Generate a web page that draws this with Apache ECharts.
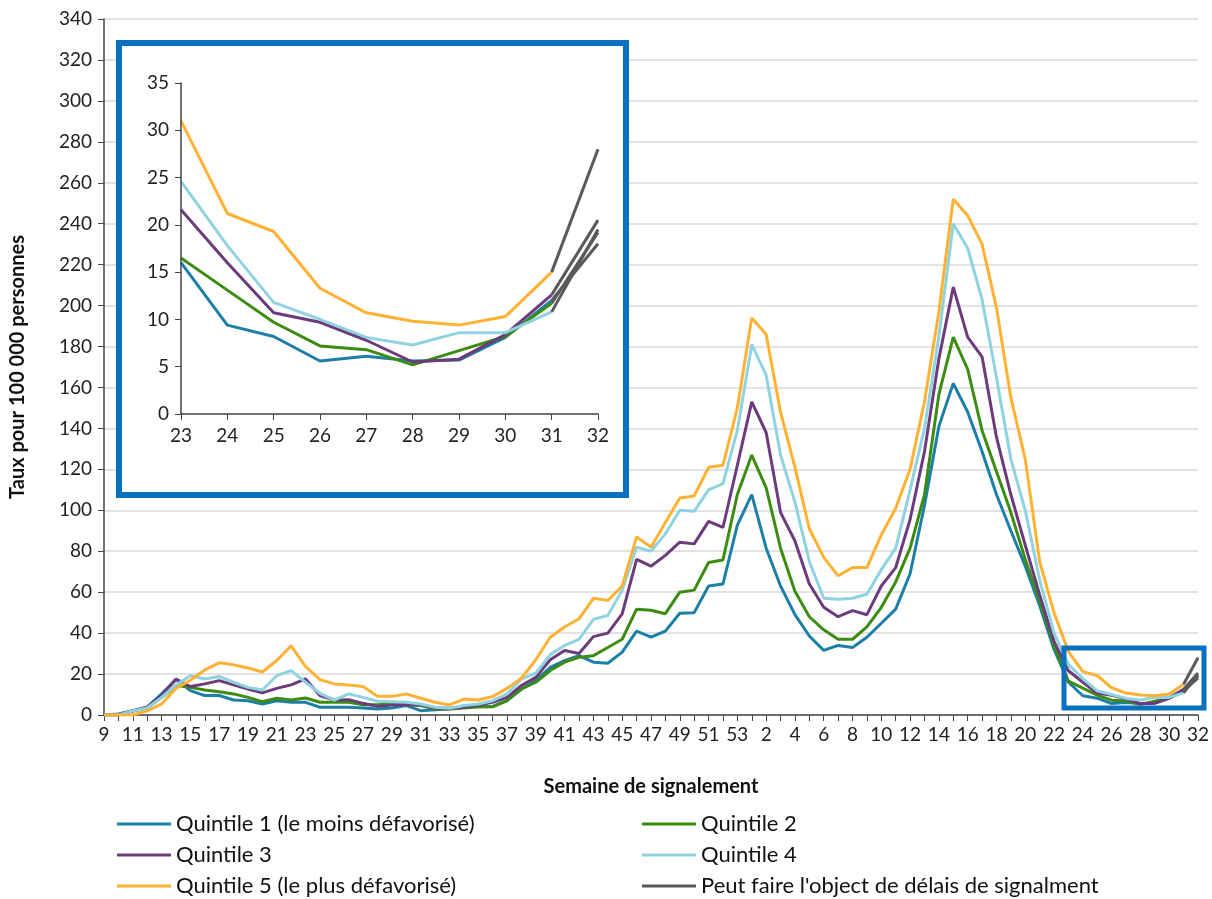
<!DOCTYPE html>
<html><head><meta charset="utf-8">
<script src="https://cdn.jsdelivr.net/npm/echarts@6/dist/echarts.min.js"></script>
<style>html,body{margin:0;padding:0;background:#fff}#c{width:1212px;height:899px}</style>
</head><body><div id="c"></div>
<script>
const weeks2020 = [];for(let w=9;w<=53;w++)weeks2020.push(String(w));
const weeks2021 = [];for(let w=1;w<=32;w++)weeks2021.push(String(w));
const categories = weeks2020.concat(weeks2021);
const q1 = [0,0.5,2.1,3.8,10.3,17.3,11.9,9.5,9.5,7.3,
7,5.4,7,6.2,6.2,3.8,3.8,3.8,3.4,2.9,
3.4,4.6,2.1,2.6,2.9,3.8,4,4.2,7,12.7,
16.8,23.3,26.6,29,25.8,25.3,30.7,41,38,41,
49.7,50,63,64,92.8,107.7,81.5,63,49,38.6,
31.6,34,33,38,44.8,51.7,69,102.4,141,162,
148,128.7,107.7,90,72.7,53.5,32,16,9.4,8.2,
5.6,6.1,5.6,5.7,8.1,12,null];
const q2 = [0,0,2,3.4,8.6,14.4,13.5,12.2,11.4,10.3,
8.6,6.5,8.2,7.3,8.3,6.2,6.2,6.2,5,5,
5.4,5,4.6,2.9,2.9,3.4,4,4,7,12.7,
16,21.7,25.8,28.2,29,33,37,51.7,51.2,49.5,
60,61,74.5,75.7,107.7,127,111,81.5,60.5,48,
41.6,37,37,43,52.6,65,81.5,107.7,156.6,184.6,
168.9,139,119,99,76,56,34,16.5,13.1,9.7,
7.2,6.8,5.2,6.7,8.2,11.7,null];
const q3 = [0,0,2,3.8,9.5,17.6,13.9,15.2,16.8,14.7,
12.7,10.8,13,14.7,17.6,9.5,7.3,7.5,5.7,4.2,
4.9,5,5,3.4,3.3,3.8,4.9,6.2,8.6,14.4,
18.4,27,31.5,30,38.3,40,49.4,76,72.7,78,
84.4,83.6,94.6,91.6,122,153,138,99,85,64,
52.6,48,51,49,63,72,95.5,128.7,174,209,
184.6,175,135.7,107.7,83,58.7,36,21.6,16,10.7,
9.7,7.8,5.5,5.8,8.4,12.6,null];
const q4 = [0,0,2,3.4,8.6,14.7,19.2,17.6,18.8,16,
13.5,12.2,19.2,21.7,16,10.6,7.3,10.3,8.6,6.7,
6.5,6.2,5.4,3.8,3.3,4.6,5.4,7,10.3,17.6,
20.4,29.5,34,37,46.7,48.6,61,82,80,88.5,
100,99.5,110,113,139,181,166,127,104,75,
57,56.5,57,59,71,81.5,110,140,185,240,
228,203,165,125,100,66,40,24.6,17.8,11.8,
10,8.1,7.3,8.6,8.6,10.8,null];
const q5 = [0,0,0,2,5.4,13,17,22,25.5,24.5,
23,21,26.6,33.8,23.7,17.3,15.2,14.7,13.9,9.1,
9.1,10.3,8.2,6.2,4.9,7.8,7.3,9,13,18,
27,38,43,47,57,56,63,87,82,94,
106,107,121,122,150,194,186,148,121,91,
77,68,72,72,88,101,120,153,197,252,
244,230,199,155,125,75,50,31,21.2,19.3,
13.3,10.7,9.8,9.4,10.3,15,null];
// week 32 values (possible reporting delays)
const lastWeek = {q1:18, q2:19.2, q3:20.5, q4:19.5, q5:28};
const yTicks = {min:0,max:340,interval:20};
const insetTicks = {min:0,max:35,interval:5};

const names = ['Quintile 1 (le moins défavorisé)','Quintile 2','Quintile 3','Quintile 4','Quintile 5 (le plus défavorisé)'];
const grayName = "Peut faire l'object de délais de signalment";
const colors = ['#1B7FA6','#3D8C12','#6C3B7C','#8FD3E0','#FFB133'];
const GRAY = '#5A5A5A';
const data = [q1,q2,q3,q4,q5];
const ends = [lastWeek.q1,lastWeek.q2,lastWeek.q3,lastWeek.q4,lastWeek.q5];
const START = 67;
const series = [];
data.forEach((d,k)=>{
  const g = d.map(()=>null); g[75]=d[75]; g[76]=ends[k];
  series.push({name:names[k],type:'line',data:d,symbol:'none',lineStyle:{width:3,color:colors[k]},itemStyle:{color:colors[k]},z:3+k});
  series.push({name:grayName,type:'line',data:g,symbol:'none',lineStyle:{width:3,color:GRAY},itemStyle:{color:GRAY},z:9});
  series.push({name:names[k],type:'line',xAxisIndex:1,yAxisIndex:1,data:d.slice(START),symbol:'none',lineStyle:{width:3,color:colors[k]},z:20+k});
  series.push({name:grayName,type:'line',xAxisIndex:1,yAxisIndex:1,data:g.slice(START),symbol:'none',lineStyle:{width:3,color:GRAY},z:26});
});
const font = 'Lato, "Open Sans", sans-serif';
const lab = {color:'#222',fontSize:19,fontFamily:font};
const legBase = {orient:'vertical',icon:'rect',itemWidth:54,itemHeight:3,itemGap:9,height:120,textStyle:{color:'#111',fontSize:22,fontFamily:font},selectedMode:false};
const chart = echarts.init(document.getElementById('c'));
chart.setOption({
  animation:false,
  backgroundColor:'#fff',
  grid:[{left:104,right:13,top:19,bottom:184},{left:181,width:417,top:83,height:331}],
  xAxis:[{type:'category',data:categories,boundaryGap:false,
    axisLabel:Object.assign({interval:1,margin:10},lab),
    axisTick:{show:true,interval:0,length:6,lineStyle:{color:'#444'}},
    axisLine:{lineStyle:{color:'#444',width:1.5}},
    name:'Semaine de signalement',nameLocation:'middle',nameGap:62,
    nameTextStyle:{fontSize:20,fontWeight:'bold',color:'#111',fontFamily:font}},
    {type:'category',gridIndex:1,data:categories.slice(START),boundaryGap:false,z:30,
    axisLabel:Object.assign({margin:12},lab),
    axisTick:{show:true,interval:0,length:6,lineStyle:{color:'#444'}},
    axisLine:{lineStyle:{color:'#444',width:1.5}}}],
  yAxis:[{type:'value',min:yTicks.min,max:yTicks.max,interval:yTicks.interval,
    axisLabel:Object.assign({margin:12},lab),
    axisLine:{show:true,lineStyle:{color:'#444',width:1.5}},
    axisTick:{show:true,length:6,lineStyle:{color:'#444'}},
    splitLine:{lineStyle:{color:'#d9d9d9',width:1.5}},
    name:'Taux pour 100 000 personnes',nameLocation:'middle',nameGap:76,
    nameTextStyle:{fontSize:20,fontWeight:'bold',color:'#111',fontFamily:font}},
    {type:'value',gridIndex:1,min:insetTicks.min,max:insetTicks.max,interval:insetTicks.interval,z:30,
    axisLabel:Object.assign({margin:12},lab),
    axisLine:{show:true,lineStyle:{color:'#444',width:1.5}},
    axisTick:{show:true,length:6,lineStyle:{color:'#444'}},
    splitLine:{show:false}}],
  legend:[Object.assign({left:112,top:808,data:[names[0],names[2],names[4]]},legBase),
          Object.assign({left:637,top:808,data:[names[1],names[3],grayName]},legBase)],
  graphic:[
    {type:'rect',shape:{x:119,y:43,width:507,height:452},style:{fill:'#fff',stroke:'#0A70C0',lineWidth:6},z:1},
    {type:'rect',shape:{x:1064,y:648,width:140,height:60},style:{fill:'none',stroke:'#0A70C0',lineWidth:5},z:50}
  ],
  series:series
});
</script></body></html>
